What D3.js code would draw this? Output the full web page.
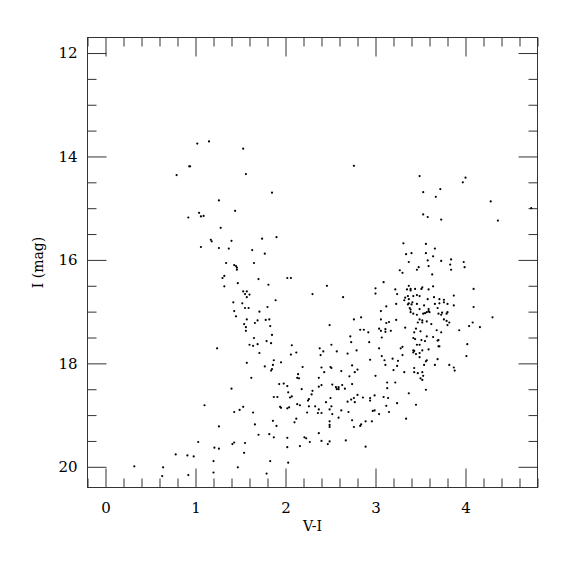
<!DOCTYPE html>
<html>
<head>
<meta charset="utf-8">
<script src="https://cdn.jsdelivr.net/npm/d3@7"></script>
<style>
  body { margin: 0; background: #fff; }
  svg { display: block; }
  .tick text { font-family: "DejaVu Serif", serif; font-size: 15px; fill: #000; }
  .tick line { stroke: #333; }
  .axis path.domain { display: none; }
</style>
</head>
<body>
<div id="cmd"></div>
<script>
// V-I colour and I magnitude of each star
const colorVI = [
  1.02, 1.15, 0.93, 0.94, 0.79, 1.26, 1.44, 1.04, 0.92, 1.06, 1.09, 1.28, 1.17, 1.18, 1.40, 1.06, 1.26, 1.37, 1.34, 1.43, 1.32, 1.30,
  1.53, 2.76, 1.56, 1.85, 1.74, 1.90, 1.63, 1.77, 1.65, 1.45, 1.46, 1.46, 1.70, 2.02, 2.06,
  3.49, 4.00, 3.97, 3.53, 3.72, 3.67, 4.28, 4.73, 4.36, 3.53, 3.58, 3.73, 3.31, 3.56, 3.66, 3.34, 3.40, 3.56, 3.64, 3.37, 3.58, 3.73,
  3.84, 3.98, 3.48, 3.46, 3.59, 3.83, 3.99, 3.84, 3.27, 3.30, 3.63,
  1.32, 1.42, 1.43, 1.24, 1.40,
  1.10, 1.43, 1.26, 1.03, 1.21, 1.26, 1.41, 1.43, 0.78, 0.91, 0.98, 1.20, 0.32, 0.64, 1.20, 0.63, 0.92,
  1.47, 1.81, 2.46, 3.09, 1.53, 1.57, 1.55, 1.60, 1.57, 2.30, 2.64, 3.00, 3.00, 1.89, 1.52, 1.80, 1.55, 1.59, 1.71, 3.06,
  1.45, 1.57, 1.69, 1.78, 1.82, 2.76, 2.84, 3.06, 1.54, 1.66, 2.49, 1.56, 1.83, 3.04, 3.06, 1.56, 2.83, 2.87, 2.92, 1.85,
  1.65, 2.72, 3.07, 1.79, 1.84, 2.73, 2.93, 1.60, 1.64, 1.69, 2.07, 2.51, 2.38, 2.42, 2.57, 2.12, 2.06, 1.71, 2.39, 2.69,
  2.79, 3.04, 2.94, 3.07, 3.10, 1.87, 1.95, 1.57, 1.77, 1.86, 1.85, 1.84, 2.19, 2.40, 2.50, 2.51, 2.74, 2.80, 2.77, 2.62,
  2.43, 3.00, 2.14, 2.13, 2.15, 1.62, 2.37, 2.71, 1.93, 1.98, 2.02, 2.40, 2.37, 2.52, 2.56, 2.59, 2.57, 2.59, 2.63, 2.66,
  2.74, 2.18,
  2.03, 2.30, 2.29, 1.87, 1.91, 2.05, 2.07, 2.26, 2.25, 2.45, 2.50, 2.69, 2.73, 2.76, 2.77, 2.80, 2.86, 2.94, 2.94, 2.99,
  3.09, 1.49, 1.53, 1.64, 1.94, 1.95, 2.02, 2.04, 2.13, 2.16, 2.26, 2.24, 2.33, 2.37, 2.36, 2.40, 2.49, 2.51, 2.52, 2.62,
  2.70, 2.59, 2.97, 2.99, 3.04, 2.74, 2.76, 2.84, 2.83, 2.89, 2.96, 1.86, 1.66, 1.90, 2.12, 2.10, 2.49, 2.49, 2.49, 1.70,
  1.82, 1.87, 2.02, 2.02, 2.21, 2.23, 2.27, 2.16, 2.37, 2.40, 2.47, 2.49, 2.67, 2.89, 1.55, 1.54, 1.47, 1.83, 2.03, 1.79,
  3.34, 3.45, 3.24, 3.12, 3.15,
  3.22, 3.37, 3.35, 3.39, 3.39, 3.44, 3.52, 3.51, 3.59, 3.64, 4.09, 3.24, 3.32, 3.33, 3.36, 3.37, 3.42, 3.46, 3.49, 3.65,
  3.71, 3.76, 3.76, 3.87, 3.58, 3.23, 3.36, 3.37, 3.40, 3.41, 3.46, 3.54, 3.66, 3.71, 3.80, 3.87, 4.09, 3.12, 3.38, 3.39,
  3.49, 3.59, 3.69, 3.39, 3.42, 3.46, 3.53, 3.55, 3.57, 3.59, 3.60, 3.70, 3.74, 3.73, 3.79, 3.80, 4.30, 3.49, 3.52, 3.57,
  3.47, 3.52, 3.23, 3.15, 3.12, 3.62, 3.76, 3.79, 3.82, 3.80, 4.08, 4.04, 4.16, 3.93, 3.33, 3.45, 3.17, 3.11, 3.11, 3.50,
  3.43, 3.68, 3.73, 3.57, 3.64, 3.42, 3.44, 3.51, 3.55, 3.69, 3.70, 4.02, 3.46, 3.49, 3.28, 3.30, 3.70, 3.71, 3.42, 3.42,
  3.43, 3.52, 3.59, 3.49, 3.30, 3.45, 3.49, 4.01, 3.69, 3.19, 3.25, 3.57, 3.56, 3.66, 3.54, 3.82, 3.24, 3.11, 3.87, 3.88,
  3.20, 3.32, 3.43, 3.43, 3.47, 3.52, 3.53, 3.50, 3.52, 3.13, 3.22, 3.13, 3.56,
  3.14, 3.37
];
const magI = [
  13.75, 13.71, 14.19, 14.19, 14.36, 14.85, 15.05, 15.09, 15.18, 15.16, 15.15, 15.38, 15.61, 15.64, 15.63, 15.75, 15.77, 15.78, 16.06, 16.10, 16.31, 16.35,
  13.85, 14.18, 14.34, 14.70, 15.59, 15.56, 15.81, 15.88, 16.06, 16.12, 16.15, 16.19, 16.37, 16.35, 16.35,
  14.38, 14.41, 14.50, 14.69, 14.63, 14.78, 14.87, 15.00, 15.24, 15.12, 15.17, 15.22, 15.68, 15.69, 15.78, 15.89, 15.87, 15.87, 15.93, 16.04, 16.01, 16.02,
  15.99, 16.04, 16.14, 16.19, 16.12, 16.09, 16.14, 16.19, 16.20, 16.25, 16.28,
  16.51, 16.82, 16.99, 17.71, 18.49,
  18.81, 18.94, 19.22, 19.52, 19.63, 19.65, 19.56, 19.53, 19.76, 19.78, 19.80, 19.89, 19.99, 20.01, 20.11, 20.18, 20.16,
  16.45, 16.48, 16.50, 16.43, 16.61, 16.61, 16.66, 16.67, 16.72, 16.66, 16.72, 16.55, 16.65, 16.78, 16.84, 16.91, 16.93, 16.93, 17.00, 16.99,
  17.09, 17.15, 17.17, 17.16, 17.15, 17.15, 17.11, 17.15, 17.24, 17.22, 17.26, 17.30, 17.28, 17.33, 17.37, 17.37, 17.35, 17.35, 17.40, 17.45,
  17.51, 17.48, 17.50, 17.57, 17.61, 17.59, 17.59, 17.64, 17.66, 17.63, 17.65, 17.64, 17.71, 17.77, 17.77, 17.79, 17.83, 17.80, 17.84, 17.81,
  17.75, 17.71, 17.93, 17.86, 17.94, 17.94, 17.98, 17.99, 18.06, 18.03, 18.11, 18.14, 18.07, 18.08, 18.07, 18.09, 18.04, 18.12, 18.17, 18.15,
  18.17, 18.24, 18.21, 18.28, 18.29, 18.28, 18.28, 18.25, 18.40, 18.39, 18.44, 18.42, 18.45, 18.41, 18.46, 18.46, 18.50, 18.50, 18.42, 18.49,
  18.40, 18.50,
  18.56, 18.53, 18.60, 18.65, 18.65, 18.66, 18.64, 18.69, 18.72, 18.75, 18.67, 18.74, 18.70, 18.67, 18.75, 18.61, 18.66, 18.67, 18.72, 18.62,
  18.65, 18.90, 18.84, 18.95, 18.84, 18.86, 18.87, 18.85, 18.79, 18.81, 18.83, 18.95, 18.83, 18.89, 18.96, 18.96, 18.89, 18.83, 18.98, 18.91,
  18.94, 19.05, 18.92, 18.91, 18.98, 19.10, 19.23, 19.18, 19.21, 19.12, 19.12, 19.11, 19.18, 19.21, 19.07, 19.14, 19.12, 19.19, 19.23, 19.38,
  19.37, 19.43, 19.44, 19.62, 19.43, 19.45, 19.52, 19.60, 19.35, 19.50, 19.56, 19.51, 19.49, 19.61, 19.54, 19.73, 20.01, 19.89, 19.92, 20.13,
  19.07, 18.80, 18.77, 18.82, 18.94,
  16.57, 16.50, 16.57, 16.56, 16.59, 16.56, 16.53, 16.56, 16.57, 16.51, 16.56, 16.66, 16.78, 16.73, 16.70, 16.76, 16.70, 16.68, 16.70, 16.72,
  16.76, 16.77, 16.82, 16.69, 16.76, 16.85, 16.86, 16.84, 16.86, 16.82, 16.85, 16.88, 16.85, 16.84, 16.85, 16.88, 16.91, 16.90, 16.93, 16.96,
  16.95, 16.95, 16.93, 17.01, 17.04, 17.06, 17.04, 17.03, 17.01, 16.99, 17.01, 17.04, 17.02, 17.06, 17.04, 17.01, 17.11, 17.15, 17.17, 17.19,
  17.21, 17.21, 17.16, 17.20, 17.22, 17.24, 17.15, 17.18, 17.21, 17.26, 17.21, 17.28, 17.30, 17.36, 17.31, 17.33, 17.37, 17.34, 17.39, 17.38,
  17.40, 17.36, 17.40, 17.48, 17.49, 17.51, 17.53, 17.55, 17.57, 17.56, 17.55, 17.63, 17.64, 17.64, 17.71, 17.68, 17.67, 17.67, 17.75, 17.79,
  17.76, 17.75, 17.73, 17.80, 17.84, 17.82, 17.88, 17.86, 17.92, 17.91, 17.95, 17.94, 17.96, 18.03, 18.03, 18.03, 18.05, 18.03, 18.08, 18.14,
  18.13, 18.17, 18.17, 18.09, 18.19, 18.17, 18.24, 18.29, 18.32, 18.37, 18.37, 18.48, 18.51,
  18.67, 18.58
];

const xMajor = [0, 1, 2, 3, 4];
const yMajor = [12, 14, 16, 18, 20];
const xTitle = "V-I";
const yTitle = "I (mag)";

const stars = colorVI.map((v, i) => ({ vi: v, mag: magI[i] }));

const W = 575, H = 575;
const plotL = 87.5, plotR = 537.5, plotT = 37.5, plotB = 487.5;

const svg = d3.select("#cmd")
    .append("svg")
    .attr("width", W)
    .attr("height", H);

const x = d3.scaleLinear()
    .domain([-0.2, 4.8])
    .range([plotL, plotR]);

const y = d3.scaleLinear()
    .domain([11.7, 20.4])
    .range([plotT, plotB]);

const xMinor = d3.range(-0.2, 4.81, 0.2).map(v => +v.toFixed(1)).filter(v => !xMajor.includes(v));
const yMinor = d3.range(12, 20.01, 0.5).filter(v => !yMajor.includes(v));

// major ticks with labels (bottom / left), mirrored ticks on top / right
svg.append("g")
    .attr("class", "axis")
    .attr("transform", `translate(0,${plotB})`)
    .call(d3.axisBottom(x).tickValues(xMajor).tickSize(-19).tickPadding(14.5).tickFormat(d3.format("d")));
svg.append("g")
    .attr("class", "axis")
    .attr("transform", `translate(0,${plotB})`)
    .call(d3.axisBottom(x).tickValues(xMinor).tickSize(-9).tickFormat(""));
svg.append("g")
    .attr("class", "axis")
    .attr("transform", `translate(0,${plotT})`)
    .call(d3.axisTop(x).tickValues(xMajor).tickSize(-19).tickFormat(""));
svg.append("g")
    .attr("class", "axis")
    .attr("transform", `translate(0,${plotT})`)
    .call(d3.axisTop(x).tickValues(xMinor).tickSize(-9).tickFormat(""));

svg.append("g")
    .attr("class", "axis")
    .attr("transform", `translate(${plotL},0)`)
    .call(d3.axisLeft(y).tickValues(yMajor).tickSize(-19).tickPadding(10).tickFormat(d3.format("d")));
svg.append("g")
    .attr("class", "axis")
    .attr("transform", `translate(${plotL},0)`)
    .call(d3.axisLeft(y).tickValues(yMinor).tickSize(-9).tickFormat(""));
svg.append("g")
    .attr("class", "axis")
    .attr("transform", `translate(${plotR},0)`)
    .call(d3.axisRight(y).tickValues(yMajor).tickSize(-19).tickFormat(""));
svg.append("g")
    .attr("class", "axis")
    .attr("transform", `translate(${plotR},0)`)
    .call(d3.axisRight(y).tickValues(yMinor).tickSize(-9).tickFormat(""));

svg.append("rect")
    .attr("x", plotL)
    .attr("y", plotT)
    .attr("width", plotR - plotL)
    .attr("height", plotB - plotT)
    .attr("fill", "none")
    .attr("stroke", "#333")
    .attr("stroke-width", 1);

svg.append("g")
    .selectAll("circle")
    .data(stars)
    .join("circle")
    .attr("cx", d => x(d.vi))
    .attr("cy", d => y(d.mag))
    .attr("r", 1.1)
    .attr("fill", "#000");

svg.append("text")
    .attr("x", (plotL + plotR) / 2)
    .attr("y", 530.5)
    .attr("text-anchor", "middle")
    .attr("font-family", "DejaVu Serif, serif")
    .attr("font-size", 14)
    .text(xTitle);

svg.append("text")
    .attr("transform", `translate(43,${(plotT + plotB) / 2}) rotate(-90)`)
    .attr("text-anchor", "middle")
    .attr("font-family", "DejaVu Serif, serif")
    .attr("font-size", 14)
    .text(yTitle);
</script>
</body>
</html>
